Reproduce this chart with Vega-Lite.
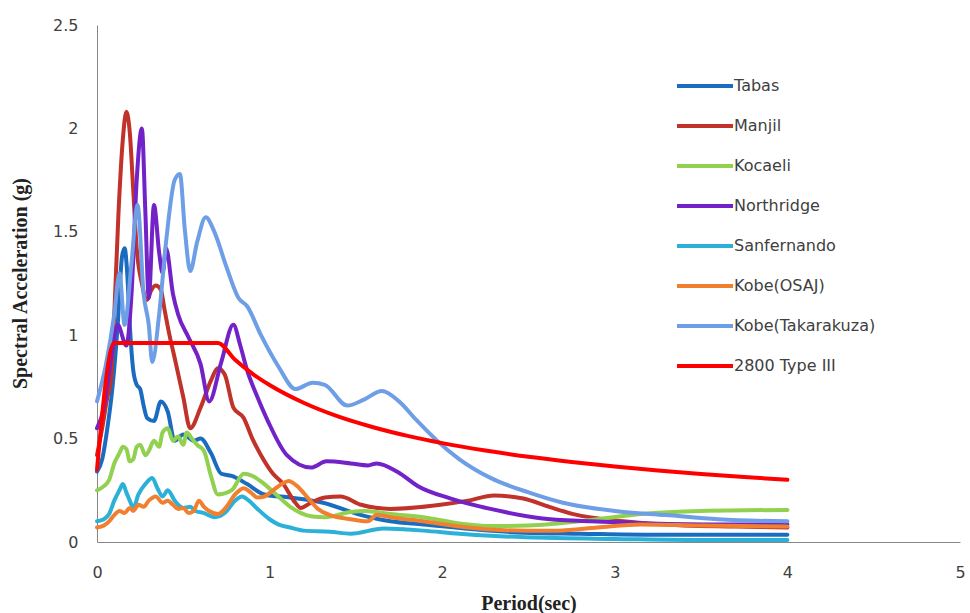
{
  "$schema": "https://vega.github.io/schema/vega-lite/v6.json",
  "autosize": "none",
  "width": 863,
  "height": 517,
  "padding": {"left": 97, "top": 25, "right": 10, "bottom": 71},
  "background": "white",
  "config": {"view": {"stroke": null}},
  "datasets": {
    "spectra": [
      {"s":"Tabas","t":0,"v":0.34},{"s":"Tabas","t":0.03,"v":0.4},{"s":"Tabas","t":0.06,"v":0.55},{"s":"Tabas","t":0.09,"v":0.75},{"s":"Tabas","t":0.12,"v":1.05},{"s":"Tabas","t":0.145,"v":1.38},{"s":"Tabas","t":0.16,"v":1.42},{"s":"Tabas","t":0.175,"v":1.3},{"s":"Tabas","t":0.19,"v":1.05},{"s":"Tabas","t":0.21,"v":0.83},{"s":"Tabas","t":0.23,"v":0.76},{"s":"Tabas","t":0.25,"v":0.74},{"s":"Tabas","t":0.27,"v":0.66},{"s":"Tabas","t":0.29,"v":0.6},{"s":"Tabas","t":0.33,"v":0.585},{"s":"Tabas","t":0.37,"v":0.68},{"s":"Tabas","t":0.41,"v":0.63},{"s":"Tabas","t":0.45,"v":0.49},{"s":"Tabas","t":0.5,"v":0.52},{"s":"Tabas","t":0.56,"v":0.49},{"s":"Tabas","t":0.6,"v":0.5},{"s":"Tabas","t":0.66,"v":0.43},{"s":"Tabas","t":0.72,"v":0.33},{"s":"Tabas","t":0.78,"v":0.32},{"s":"Tabas","t":0.87,"v":0.28},{"s":"Tabas","t":0.97,"v":0.23},{"s":"Tabas","t":1.12,"v":0.215},{"s":"Tabas","t":1.31,"v":0.19},{"s":"Tabas","t":1.51,"v":0.135},{"s":"Tabas","t":1.7,"v":0.1},{"s":"Tabas","t":1.89,"v":0.085},{"s":"Tabas","t":2.2,"v":0.06},{"s":"Tabas","t":2.47,"v":0.045},{"s":"Tabas","t":2.8,"v":0.04},{"s":"Tabas","t":3.2,"v":0.035},{"s":"Tabas","t":3.6,"v":0.035},{"s":"Tabas","t":4,"v":0.035},

      {"s":"Manjil","t":0,"v":0.42},{"s":"Manjil","t":0.03,"v":0.55},{"s":"Manjil","t":0.06,"v":0.7},{"s":"Manjil","t":0.08,"v":0.78},{"s":"Manjil","t":0.1,"v":1.1},{"s":"Manjil","t":0.125,"v":1.6},{"s":"Manjil","t":0.15,"v":1.95},{"s":"Manjil","t":0.17,"v":2.08},{"s":"Manjil","t":0.19,"v":1.98},{"s":"Manjil","t":0.21,"v":1.7},{"s":"Manjil","t":0.23,"v":1.42},{"s":"Manjil","t":0.26,"v":1.25},{"s":"Manjil","t":0.29,"v":1.17},{"s":"Manjil","t":0.31,"v":1.21},{"s":"Manjil","t":0.34,"v":1.24},{"s":"Manjil","t":0.37,"v":1.22},{"s":"Manjil","t":0.39,"v":1.13},{"s":"Manjil","t":0.42,"v":1.0},{"s":"Manjil","t":0.45,"v":0.89},{"s":"Manjil","t":0.5,"v":0.7},{"s":"Manjil","t":0.54,"v":0.55},{"s":"Manjil","t":0.6,"v":0.65},{"s":"Manjil","t":0.66,"v":0.78},{"s":"Manjil","t":0.7,"v":0.84},{"s":"Manjil","t":0.74,"v":0.81},{"s":"Manjil","t":0.79,"v":0.65},{"s":"Manjil","t":0.85,"v":0.6},{"s":"Manjil","t":0.9,"v":0.5},{"s":"Manjil","t":0.95,"v":0.42},{"s":"Manjil","t":1.02,"v":0.33},{"s":"Manjil","t":1.08,"v":0.28},{"s":"Manjil","t":1.14,"v":0.2},{"s":"Manjil","t":1.18,"v":0.165},{"s":"Manjil","t":1.24,"v":0.19},{"s":"Manjil","t":1.32,"v":0.215},{"s":"Manjil","t":1.41,"v":0.22},{"s":"Manjil","t":1.53,"v":0.18},{"s":"Manjil","t":1.7,"v":0.16},{"s":"Manjil","t":1.99,"v":0.18},{"s":"Manjil","t":2.15,"v":0.2},{"s":"Manjil","t":2.3,"v":0.225},{"s":"Manjil","t":2.47,"v":0.21},{"s":"Manjil","t":2.62,"v":0.17},{"s":"Manjil","t":2.76,"v":0.135},{"s":"Manjil","t":3.05,"v":0.1},{"s":"Manjil","t":3.4,"v":0.08},{"s":"Manjil","t":3.7,"v":0.075},{"s":"Manjil","t":4,"v":0.07},

      {"s":"Kocaeli","t":0,"v":0.25},{"s":"Kocaeli","t":0.04,"v":0.27},{"s":"Kocaeli","t":0.07,"v":0.3},{"s":"Kocaeli","t":0.1,"v":0.38},{"s":"Kocaeli","t":0.13,"v":0.43},{"s":"Kocaeli","t":0.15,"v":0.46},{"s":"Kocaeli","t":0.17,"v":0.45},{"s":"Kocaeli","t":0.19,"v":0.39},{"s":"Kocaeli","t":0.21,"v":0.4},{"s":"Kocaeli","t":0.23,"v":0.46},{"s":"Kocaeli","t":0.25,"v":0.47},{"s":"Kocaeli","t":0.28,"v":0.42},{"s":"Kocaeli","t":0.3,"v":0.44},{"s":"Kocaeli","t":0.33,"v":0.49},{"s":"Kocaeli","t":0.36,"v":0.46},{"s":"Kocaeli","t":0.38,"v":0.53},{"s":"Kocaeli","t":0.41,"v":0.55},{"s":"Kocaeli","t":0.44,"v":0.49},{"s":"Kocaeli","t":0.47,"v":0.51},{"s":"Kocaeli","t":0.5,"v":0.47},{"s":"Kocaeli","t":0.52,"v":0.53},{"s":"Kocaeli","t":0.55,"v":0.5},{"s":"Kocaeli","t":0.58,"v":0.47},{"s":"Kocaeli","t":0.62,"v":0.44},{"s":"Kocaeli","t":0.66,"v":0.32},{"s":"Kocaeli","t":0.7,"v":0.23},{"s":"Kocaeli","t":0.78,"v":0.25},{"s":"Kocaeli","t":0.85,"v":0.33},{"s":"Kocaeli","t":0.9,"v":0.32},{"s":"Kocaeli","t":0.97,"v":0.28},{"s":"Kocaeli","t":1.05,"v":0.22},{"s":"Kocaeli","t":1.12,"v":0.17},{"s":"Kocaeli","t":1.24,"v":0.125},{"s":"Kocaeli","t":1.32,"v":0.12},{"s":"Kocaeli","t":1.47,"v":0.145},{"s":"Kocaeli","t":1.55,"v":0.15},{"s":"Kocaeli","t":1.7,"v":0.135},{"s":"Kocaeli","t":1.89,"v":0.12},{"s":"Kocaeli","t":2.1,"v":0.09},{"s":"Kocaeli","t":2.28,"v":0.077},{"s":"Kocaeli","t":2.5,"v":0.08},{"s":"Kocaeli","t":2.67,"v":0.09},{"s":"Kocaeli","t":2.9,"v":0.11},{"s":"Kocaeli","t":3.15,"v":0.135},{"s":"Kocaeli","t":3.5,"v":0.15},{"s":"Kocaeli","t":4,"v":0.155},

      {"s":"Northridge","t":0,"v":0.55},{"s":"Northridge","t":0.04,"v":0.65},{"s":"Northridge","t":0.08,"v":0.88},{"s":"Northridge","t":0.12,"v":1.05},{"s":"Northridge","t":0.17,"v":0.95},{"s":"Northridge","t":0.2,"v":1.2},{"s":"Northridge","t":0.23,"v":1.75},{"s":"Northridge","t":0.26,"v":2.0},{"s":"Northridge","t":0.28,"v":1.6},{"s":"Northridge","t":0.3,"v":1.18},{"s":"Northridge","t":0.33,"v":1.63},{"s":"Northridge","t":0.36,"v":1.4},{"s":"Northridge","t":0.38,"v":1.3},{"s":"Northridge","t":0.4,"v":1.42},{"s":"Northridge","t":0.44,"v":1.2},{"s":"Northridge","t":0.47,"v":1.1},{"s":"Northridge","t":0.53,"v":0.99},{"s":"Northridge","t":0.6,"v":0.86},{"s":"Northridge","t":0.65,"v":0.68},{"s":"Northridge","t":0.72,"v":0.87},{"s":"Northridge","t":0.79,"v":1.05},{"s":"Northridge","t":0.83,"v":0.95},{"s":"Northridge","t":0.87,"v":0.83},{"s":"Northridge","t":0.93,"v":0.7},{"s":"Northridge","t":0.99,"v":0.585},{"s":"Northridge","t":1.1,"v":0.42},{"s":"Northridge","t":1.24,"v":0.36},{"s":"Northridge","t":1.33,"v":0.39},{"s":"Northridge","t":1.47,"v":0.38},{"s":"Northridge","t":1.57,"v":0.37},{"s":"Northridge","t":1.62,"v":0.38},{"s":"Northridge","t":1.74,"v":0.34},{"s":"Northridge","t":1.86,"v":0.27},{"s":"Northridge","t":2.05,"v":0.21},{"s":"Northridge","t":2.28,"v":0.16},{"s":"Northridge","t":2.57,"v":0.115},{"s":"Northridge","t":2.86,"v":0.1},{"s":"Northridge","t":3.2,"v":0.09},{"s":"Northridge","t":3.6,"v":0.085},{"s":"Northridge","t":4,"v":0.085},

      {"s":"Sanfernando","t":0,"v":0.1},{"s":"Sanfernando","t":0.04,"v":0.11},{"s":"Sanfernando","t":0.07,"v":0.135},{"s":"Sanfernando","t":0.1,"v":0.2},{"s":"Sanfernando","t":0.13,"v":0.25},{"s":"Sanfernando","t":0.15,"v":0.28},{"s":"Sanfernando","t":0.17,"v":0.24},{"s":"Sanfernando","t":0.19,"v":0.2},{"s":"Sanfernando","t":0.21,"v":0.165},{"s":"Sanfernando","t":0.24,"v":0.23},{"s":"Sanfernando","t":0.28,"v":0.28},{"s":"Sanfernando","t":0.32,"v":0.31},{"s":"Sanfernando","t":0.35,"v":0.26},{"s":"Sanfernando","t":0.38,"v":0.22},{"s":"Sanfernando","t":0.41,"v":0.25},{"s":"Sanfernando","t":0.45,"v":0.2},{"s":"Sanfernando","t":0.5,"v":0.165},{"s":"Sanfernando","t":0.54,"v":0.17},{"s":"Sanfernando","t":0.57,"v":0.15},{"s":"Sanfernando","t":0.62,"v":0.14},{"s":"Sanfernando","t":0.68,"v":0.12},{"s":"Sanfernando","t":0.74,"v":0.14},{"s":"Sanfernando","t":0.8,"v":0.2},{"s":"Sanfernando","t":0.84,"v":0.22},{"s":"Sanfernando","t":0.88,"v":0.2},{"s":"Sanfernando","t":0.93,"v":0.16},{"s":"Sanfernando","t":1.0,"v":0.11},{"s":"Sanfernando","t":1.05,"v":0.085},{"s":"Sanfernando","t":1.12,"v":0.07},{"s":"Sanfernando","t":1.2,"v":0.055},{"s":"Sanfernando","t":1.35,"v":0.05},{"s":"Sanfernando","t":1.47,"v":0.04},{"s":"Sanfernando","t":1.66,"v":0.065},{"s":"Sanfernando","t":1.8,"v":0.06},{"s":"Sanfernando","t":1.89,"v":0.055},{"s":"Sanfernando","t":2.1,"v":0.04},{"s":"Sanfernando","t":2.28,"v":0.03},{"s":"Sanfernando","t":2.6,"v":0.02},{"s":"Sanfernando","t":3.0,"v":0.015},{"s":"Sanfernando","t":3.5,"v":0.01},{"s":"Sanfernando","t":4,"v":0.01},

      {"s":"Kobe(OSAJ)","t":0,"v":0.07},{"s":"Kobe(OSAJ)","t":0.04,"v":0.08},{"s":"Kobe(OSAJ)","t":0.07,"v":0.1},{"s":"Kobe(OSAJ)","t":0.1,"v":0.13},{"s":"Kobe(OSAJ)","t":0.13,"v":0.15},{"s":"Kobe(OSAJ)","t":0.16,"v":0.14},{"s":"Kobe(OSAJ)","t":0.19,"v":0.165},{"s":"Kobe(OSAJ)","t":0.21,"v":0.15},{"s":"Kobe(OSAJ)","t":0.24,"v":0.18},{"s":"Kobe(OSAJ)","t":0.27,"v":0.17},{"s":"Kobe(OSAJ)","t":0.3,"v":0.2},{"s":"Kobe(OSAJ)","t":0.34,"v":0.22},{"s":"Kobe(OSAJ)","t":0.38,"v":0.19},{"s":"Kobe(OSAJ)","t":0.41,"v":0.2},{"s":"Kobe(OSAJ)","t":0.44,"v":0.18},{"s":"Kobe(OSAJ)","t":0.47,"v":0.16},{"s":"Kobe(OSAJ)","t":0.5,"v":0.165},{"s":"Kobe(OSAJ)","t":0.53,"v":0.14},{"s":"Kobe(OSAJ)","t":0.56,"v":0.15},{"s":"Kobe(OSAJ)","t":0.59,"v":0.2},{"s":"Kobe(OSAJ)","t":0.62,"v":0.17},{"s":"Kobe(OSAJ)","t":0.65,"v":0.15},{"s":"Kobe(OSAJ)","t":0.7,"v":0.135},{"s":"Kobe(OSAJ)","t":0.75,"v":0.17},{"s":"Kobe(OSAJ)","t":0.8,"v":0.23},{"s":"Kobe(OSAJ)","t":0.85,"v":0.26},{"s":"Kobe(OSAJ)","t":0.89,"v":0.24},{"s":"Kobe(OSAJ)","t":0.93,"v":0.215},{"s":"Kobe(OSAJ)","t":0.97,"v":0.22},{"s":"Kobe(OSAJ)","t":1.02,"v":0.25},{"s":"Kobe(OSAJ)","t":1.07,"v":0.28},{"s":"Kobe(OSAJ)","t":1.11,"v":0.295},{"s":"Kobe(OSAJ)","t":1.16,"v":0.27},{"s":"Kobe(OSAJ)","t":1.22,"v":0.215},{"s":"Kobe(OSAJ)","t":1.28,"v":0.16},{"s":"Kobe(OSAJ)","t":1.35,"v":0.13},{"s":"Kobe(OSAJ)","t":1.47,"v":0.11},{"s":"Kobe(OSAJ)","t":1.57,"v":0.1},{"s":"Kobe(OSAJ)","t":1.62,"v":0.13},{"s":"Kobe(OSAJ)","t":1.7,"v":0.12},{"s":"Kobe(OSAJ)","t":1.89,"v":0.1},{"s":"Kobe(OSAJ)","t":2.1,"v":0.075},{"s":"Kobe(OSAJ)","t":2.28,"v":0.06},{"s":"Kobe(OSAJ)","t":2.5,"v":0.055},{"s":"Kobe(OSAJ)","t":2.67,"v":0.055},{"s":"Kobe(OSAJ)","t":2.9,"v":0.07},{"s":"Kobe(OSAJ)","t":3.15,"v":0.085},{"s":"Kobe(OSAJ)","t":3.5,"v":0.08},{"s":"Kobe(OSAJ)","t":4,"v":0.075},

      {"s":"Kobe(Takarakuza)","t":0,"v":0.68},{"s":"Kobe(Takarakuza)","t":0.05,"v":0.85},{"s":"Kobe(Takarakuza)","t":0.1,"v":1.1},{"s":"Kobe(Takarakuza)","t":0.13,"v":1.3},{"s":"Kobe(Takarakuza)","t":0.16,"v":1.05},{"s":"Kobe(Takarakuza)","t":0.2,"v":1.35},{"s":"Kobe(Takarakuza)","t":0.235,"v":1.63},{"s":"Kobe(Takarakuza)","t":0.27,"v":1.2},{"s":"Kobe(Takarakuza)","t":0.3,"v":1.05},{"s":"Kobe(Takarakuza)","t":0.32,"v":0.87},{"s":"Kobe(Takarakuza)","t":0.36,"v":1.1},{"s":"Kobe(Takarakuza)","t":0.4,"v":1.45},{"s":"Kobe(Takarakuza)","t":0.45,"v":1.75},{"s":"Kobe(Takarakuza)","t":0.48,"v":1.78},{"s":"Kobe(Takarakuza)","t":0.51,"v":1.5},{"s":"Kobe(Takarakuza)","t":0.54,"v":1.31},{"s":"Kobe(Takarakuza)","t":0.58,"v":1.45},{"s":"Kobe(Takarakuza)","t":0.63,"v":1.57},{"s":"Kobe(Takarakuza)","t":0.68,"v":1.5},{"s":"Kobe(Takarakuza)","t":0.75,"v":1.33},{"s":"Kobe(Takarakuza)","t":0.82,"v":1.18},{"s":"Kobe(Takarakuza)","t":0.87,"v":1.14},{"s":"Kobe(Takarakuza)","t":0.95,"v":1.0},{"s":"Kobe(Takarakuza)","t":1.05,"v":0.85},{"s":"Kobe(Takarakuza)","t":1.15,"v":0.74},{"s":"Kobe(Takarakuza)","t":1.25,"v":0.77},{"s":"Kobe(Takarakuza)","t":1.32,"v":0.76},{"s":"Kobe(Takarakuza)","t":1.45,"v":0.66},{"s":"Kobe(Takarakuza)","t":1.55,"v":0.69},{"s":"Kobe(Takarakuza)","t":1.65,"v":0.73},{"s":"Kobe(Takarakuza)","t":1.75,"v":0.68},{"s":"Kobe(Takarakuza)","t":1.85,"v":0.59},{"s":"Kobe(Takarakuza)","t":1.97,"v":0.49},{"s":"Kobe(Takarakuza)","t":2.1,"v":0.4},{"s":"Kobe(Takarakuza)","t":2.28,"v":0.31},{"s":"Kobe(Takarakuza)","t":2.5,"v":0.24},{"s":"Kobe(Takarakuza)","t":2.7,"v":0.19},{"s":"Kobe(Takarakuza)","t":3.0,"v":0.15},{"s":"Kobe(Takarakuza)","t":3.3,"v":0.13},{"s":"Kobe(Takarakuza)","t":3.6,"v":0.11},{"s":"Kobe(Takarakuza)","t":4,"v":0.1},

      {"s":"2800 Type III","t":0,"v":0.35},{"s":"2800 Type III","t":0.1,"v":0.9625},{"s":"2800 Type III","t":0.7,"v":0.9625},{"s":"2800 Type III","t":0.8,"v":0.881},{"s":"2800 Type III","t":0.9,"v":0.814},{"s":"2800 Type III","t":1.0,"v":0.759},{"s":"2800 Type III","t":1.2,"v":0.672},{"s":"2800 Type III","t":1.4,"v":0.606},{"s":"2800 Type III","t":1.6,"v":0.555},{"s":"2800 Type III","t":1.8,"v":0.513},{"s":"2800 Type III","t":2.0,"v":0.478},{"s":"2800 Type III","t":2.25,"v":0.442},{"s":"2800 Type III","t":2.5,"v":0.412},{"s":"2800 Type III","t":2.75,"v":0.387},{"s":"2800 Type III","t":3.0,"v":0.365},{"s":"2800 Type III","t":3.25,"v":0.346},{"s":"2800 Type III","t":3.5,"v":0.329},{"s":"2800 Type III","t":3.75,"v":0.314},{"s":"2800 Type III","t":4.0,"v":0.301}
    ]
  },
  "data": {"name": "spectra"},
  "mark": {"type": "line", "strokeWidth": 4, "interpolate": "monotone", "strokeCap": "round", "strokeJoin": "round"},
  "encoding": {
    "x": {
      "field": "t", "type": "quantitative",
      "scale": {"domain": [0, 5], "nice": false, "zero": false},
      "axis": {
        "title": "Period(sec)", "values": [0, 1, 2, 3, 4, 5], "format": "d",
        "grid": false, "ticks": false, "tickSize": 0,
        "domainColor": "#868686", "domainWidth": 1,
        "labelFont": "DejaVu Sans", "labelFontSize": 16, "labelColor": "#404040", "labelPadding": 22,
        "labelFlush": false,
        "titleFont": "Liberation Serif", "titleFontSize": 20, "titleFontWeight": "bold", "titleColor": "#222222",
        "titleY": 67, "titleBaseline": "alphabetic"
      }
    },
    "y": {
      "field": "v", "type": "quantitative",
      "scale": {"domain": [0, 2.5], "nice": false},
      "axis": {
        "title": "Spectral Acceleration (g)", "values": [0, 0.5, 1, 1.5, 2, 2.5], "format": "~g",
        "grid": false, "ticks": false, "tickSize": 0,
        "domainColor": "#868686", "domainWidth": 1,
        "labelFont": "DejaVu Sans", "labelFontSize": 16, "labelColor": "#404040", "labelPadding": 19,
        "labelFlush": false,
        "titleFont": "Liberation Serif", "titleFontSize": 20, "titleFontWeight": "bold", "titleColor": "#222222",
        "titleX": -77, "titleY": 258, "titleAngle": -90, "titleAlign": "center", "titleBaseline": "middle"
      }
    },
    "color": {
      "field": "s", "type": "nominal",
      "scale": {
        "domain": ["Tabas", "Manjil", "Kocaeli", "Northridge", "Sanfernando", "Kobe(OSAJ)", "Kobe(Takarakuza)", "2800 Type III"],
        "range": ["#1A6CC0", "#C0322A", "#92D050", "#7322C8", "#2BB0D8", "#F08030", "#6E9EE6", "#FF0000"]
      },
      "legend": {
        "title": null, "orient": "none", "legendX": 586, "legendY": 39, "padding": 0,
        "symbolType": "M-1.4,0H1.4", "symbolSize": 1600, "symbolStrokeWidth": 4,
        "rowPadding": 10, "labelOffset": 7,
        "labelFont": "DejaVu Sans", "labelFontSize": 16, "labelColor": "#404040"
      }
    }
  }
}
